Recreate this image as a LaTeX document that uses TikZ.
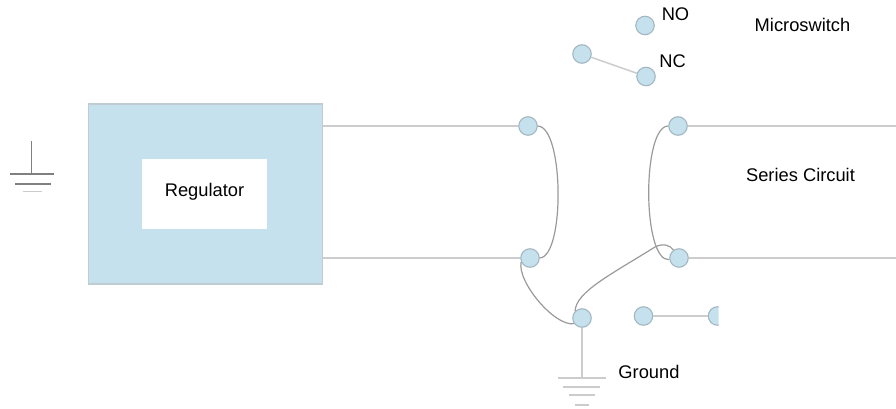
\documentclass[tikz,border=0pt]{standalone}
\usepackage{fontspec}
\setmainfont{Liberation Sans}
\usepackage{xcolor}
\definecolor{pinfill}{HTML}{C5E1EE}
\definecolor{pinedge}{HTML}{A3B7C0}
\definecolor{wiregray}{HTML}{CCCCCC}
\definecolor{jumpgray}{HTML}{9A9A9A}
\tikzset{
  pin/.style={draw=pinedge, fill=pinfill, line width=1.1pt, circle, minimum size=18.5pt, inner sep=0pt},
  wire/.style={draw=wiregray, line width=1.5pt},
  jumper/.style={draw=jumpgray, line width=1.2pt},
  earth/.style={draw=gray, line width=1.2pt},
  lbl/.style={font=\fontsize{18.3}{20}\selectfont, inner sep=0pt, text=black}
}

\begin{document}
\begin{tikzpicture}[x=1pt, y=-1pt]
  \useasboundingbox (0,0) rectangle (896,409);

  % regulator block
  \node (Reg) at (205.5,194) [draw=pinedge!70!white, fill=pinfill, line width=1.6pt, rectangle, minimum width=234pt, minimum height=180pt] {};
  \node (RegLbl) at (204.5,194) [fill=white, rectangle, minimum width=125pt, minimum height=70pt, font=\fontsize{18.3}{20}\selectfont, inner sep=0pt, text height=13pt, text depth=9pt] {Regulator};

  % contacts
  \node (P1) at (528,126) [pin] {};
  \node (P2) at (530,258) [pin] {};
  \node (P3) at (678,126) [pin] {};
  \node (P4) at (679,258) [pin] {};
  \node (P5) at (582,318) [pin] {};
  \node (P6) at (643.5,316) [pin] {};
  \begin{scope}
    \clip (700,300) rectangle (718.5,335);
    \node (P7) at (717.5,316) [pin] {};
  \end{scope}
  \node (NOpin) at (645,25.5) [pin] {};
  \node (Lever) at (582,54) [pin] {};
  \node (NCpin) at (646,76.5) [pin] {};

  % free ends
  \coordinate (OutA) at (896,126);
  \coordinate (OutB) at (896,258);
  \coordinate (EarthA) at (582,378);
  \coordinate (EarthB) at (31.5,174);
  \coordinate (EarthTop) at (31.5,141);

  % main wires
  \draw[wire] (Reg.east |- P1) -- (P1);
  \draw[wire] (Reg.east |- P2) -- (P2);
  \draw[wire] (P3) -- (OutA);
  \draw[wire] (P4) -- (OutB);
  \draw[wire] (P6) -- (P7.west);
  \draw[wire] (Lever) -- (NCpin);
  \draw[wire] (P5) -- (EarthA);

  % jumpers
  \draw[jumper] (P1.east) .. controls (564,127) and (565,256) .. (P2.east);
  \draw[jumper] (P3.west) .. controls (642,126) and (642,262) .. (P4.190);
  \draw[jumper] (P2.205) .. controls (517,282) and (555,327) .. (P5.215);
  \draw[jumper] (P5.135) .. controls (576,292) and (610,275) .. (655,247) .. controls (663,243) and (670,245) .. (P4.125);

  % bottom ground
  \draw[wire] (558,378) -- (606,378);
  \draw[wire] (563,387) -- (600,387);
  \draw[wire] (569,395) -- (595,395);
  \draw[wire] (575,405) -- (589,405);

  % left ground
  \draw[earth] (EarthTop) -- (EarthB);
  \draw[earth] (10,174) -- (54,174);
  \draw[earth] (15,184) -- (51,184);
  \draw[wire] (23,191.5) -- (42,191.5);

  % labels
  \node (NOlbl) at (675.5,14) [lbl] {NO};
  \node (NClbl) at (672.5,61) [lbl] {NC};
  \node (SwitchLbl) at (802.5,25) [lbl] {Microswitch};
  \node (SeriesLbl) at (800.5,174.5) [lbl] {Series Circuit};
  \node (GroundLbl) at (649,372) [lbl] {Ground};
\end{tikzpicture}
\end{document}
